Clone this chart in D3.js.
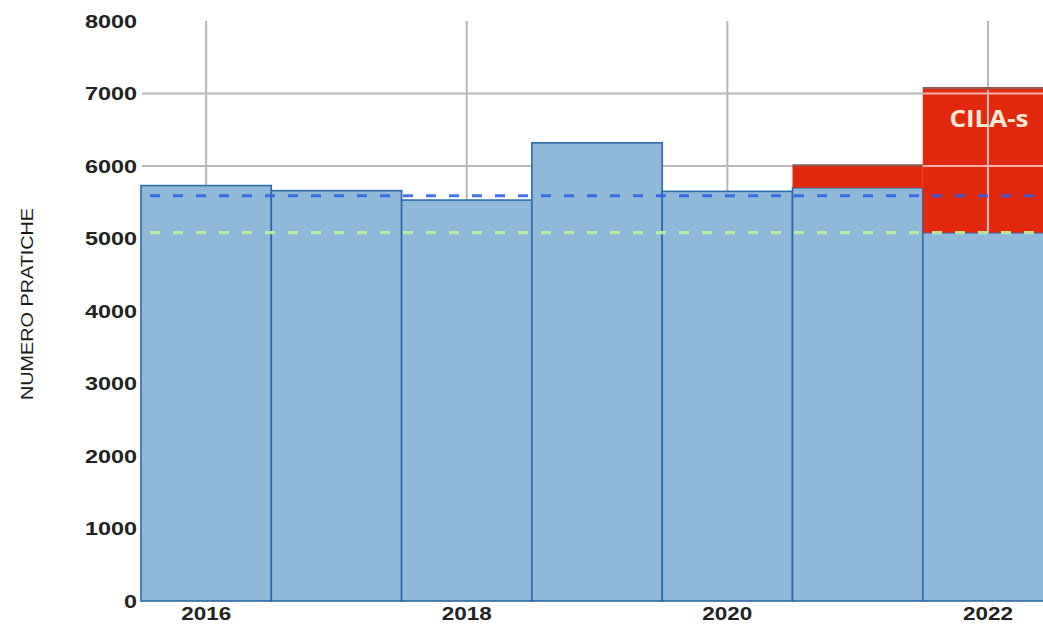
<!DOCTYPE html>
<html><head><meta charset="utf-8">
<script src="https://cdn.jsdelivr.net/npm/d3@7"></script>
<style>body{margin:0;background:#fff;}svg{display:block;}</style>
</head><body>
<svg id="c" width="1043" height="624"></svg>
<script>
const years = [2016, 2017, 2018, 2019, 2020, 2021, 2022];
const baseValues = [5730, 5660, 5530, 6320, 5650, 5700, 5080];
const cilaValues = [0, 0, 0, 0, 0, 310, 1995];
const avgBlue = 5590;
const avgGreen = 5080;
const yTicks = [0, 1000, 2000, 3000, 4000, 5000, 6000, 7000, 8000];
const xTickYears = [2016, 2018, 2020, 2022];
const yTitle = "NUMERO PRATICHE";
const cilaLabel = "CILA-s";

const svg = d3.select("#c");
const x = d3.scaleBand().domain(years).range([141, 141 + 7 * 130.3]).padding(0);
const y = d3.scaleLinear().domain([0, 8000]).range([601, 21]);
const W = 1043;

// gridlines behind bars
const grid = svg.append("g");
grid.selectAll("line.h").data(yTicks.filter(t => t > 0 && t < 8000)).enter().append("line")
  .attr("x1", 142).attr("x2", W).attr("y1", d => y(d)).attr("y2", d => y(d))
  .attr("stroke", "#b7b7b7").attr("stroke-width", 2);
grid.selectAll("line.v").data(xTickYears).enter().append("line")
  .attr("x1", d => x(d) + x.bandwidth() / 2).attr("x2", d => x(d) + x.bandwidth() / 2)
  .attr("y1", y(8000)).attr("y2", y(0))
  .attr("stroke", "#b7b7b7").attr("stroke-width", 2);

const data = years.map((yr, i) => ({yr, base: baseValues[i], cila: cilaValues[i]}));

// blue bars
svg.append("g").selectAll("rect").data(data).enter().append("rect")
  .attr("x", d => x(d.yr)).attr("width", x.bandwidth())
  .attr("y", d => y(d.base)).attr("height", d => y(0) - y(d.base))
  .attr("fill", "#8fb8d9").attr("stroke", "#2c6aa8").attr("stroke-width", 1.6);

// red bars
const red = data.filter(d => d.cila > 0);
svg.append("g").selectAll("rect").data(red).enter().append("rect")
  .attr("x", d => x(d.yr)).attr("width", x.bandwidth())
  .attr("y", d => y(d.base + d.cila)).attr("height", d => y(d.base) - y(d.base + d.cila))
  .attr("fill", "#e2290f");
svg.append("g").selectAll("line").data(red).enter().append("line")
  .attr("x1", d => x(d.yr)).attr("x2", d => x(d.yr) + x.bandwidth())
  .attr("y1", d => y(d.base + d.cila)).attr("y2", d => y(d.base + d.cila))
  .attr("stroke", "#8a5a52").attr("stroke-width", 2);

// gridlines visible through red bars
const clip = svg.append("defs").append("clipPath").attr("id", "redclip");
clip.selectAll("rect").data(red).enter().append("rect")
  .attr("x", d => x(d.yr)).attr("width", x.bandwidth())
  .attr("y", d => y(d.base + d.cila) + 2).attr("height", d => y(d.base) - y(d.base + d.cila) - 2);
const g2 = svg.append("g").attr("clip-path", "url(#redclip)");
g2.selectAll("line.h").data(yTicks.filter(t => t > 0 && t < 8000)).enter().append("line")
  .attr("x1", 142).attr("x2", W).attr("y1", d => y(d)).attr("y2", d => y(d))
  .attr("stroke", "#f2b0a6").attr("stroke-width", 2);
g2.selectAll("line.v").data(xTickYears).enter().append("line")
  .attr("x1", d => x(d) + x.bandwidth() / 2).attr("x2", d => x(d) + x.bandwidth() / 2)
  .attr("y1", y(8000)).attr("y2", y(0))
  .attr("stroke", "#d8b8c0").attr("stroke-width", 2);

// CILA-s label
const last = red[red.length - 1];
svg.append("text").text(cilaLabel)
  .attr("x", x(last.yr) + x.bandwidth() / 2 + 1).attr("y", 127)
  .attr("text-anchor", "middle")
  .attr("font-family", "'Open Sans', sans-serif").attr("font-weight", "bold")
  .attr("font-size", 24).attr("fill", "#fbebd6")
  .attr("textLength", 79).attr("lengthAdjust", "spacingAndGlyphs");

// dashed average lines
svg.append("line").attr("x1", 150).attr("x2", W).attr("y1", y(avgBlue)).attr("y2", y(avgBlue))
  .attr("stroke", "#2d5ee8").attr("stroke-opacity", 0.88).attr("stroke-width", 3.2)
  .attr("stroke-dasharray", "10,13");
svg.append("line").attr("x1", 150).attr("x2", W).attr("y1", y(avgGreen)).attr("y2", y(avgGreen))
  .attr("stroke", "#bff09a").attr("stroke-opacity", 0.92).attr("stroke-width", 3.2)
  .attr("stroke-dasharray", "10,13");

// y tick labels
svg.append("g").selectAll("text").data(yTicks).enter().append("text")
  .text(d => d)
  .attr("x", 137).attr("y", d => y(d) + 6.5)
  .attr("text-anchor", "end")
  .attr("font-family", "'Liberation Sans', Arial, sans-serif").attr("font-weight", "bold")
  .attr("font-size", 18).attr("fill", "#222")
  .attr("textLength", d => String(d).length * 13).attr("lengthAdjust", "spacingAndGlyphs");

// x tick labels
svg.append("g").selectAll("text").data(xTickYears).enter().append("text")
  .text(d => d)
  .attr("x", d => x(d) + x.bandwidth() / 2).attr("y", 620)
  .attr("text-anchor", "middle")
  .attr("font-family", "'Liberation Sans', Arial, sans-serif").attr("font-weight", "bold")
  .attr("font-size", 18).attr("fill", "#222")
  .attr("textLength", 50).attr("lengthAdjust", "spacingAndGlyphs");

// y title
svg.append("text").text(yTitle)
  .attr("transform", "translate(33,304) rotate(-90)")
  .attr("text-anchor", "middle")
  .attr("font-family", "'Liberation Sans', Arial, sans-serif")
  .attr("font-size", 16).attr("fill", "#1a1a1a")
  .attr("textLength", 192).attr("lengthAdjust", "spacingAndGlyphs");
</script>
</body></html>
